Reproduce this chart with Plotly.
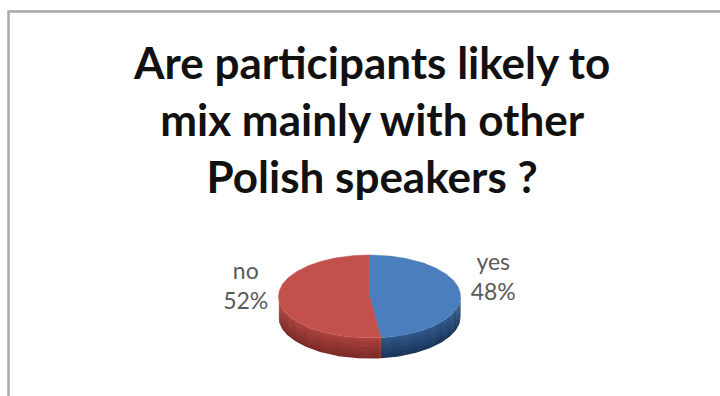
import numpy as np
import plotly.graph_objects as go

# ---- data ----
categories = ["yes", "no"]
values = [48, 52]
top_colors = ["#4A7EBD", "#C4504C"]
side_top_colors = ["#2E5688", "#A8403C"]
side_bottom_colors = ["#1A365C", "#7E2B28"]

title_text = "Are participants likely to<br>mix mainly with other<br>Polish speakers ?"

# ---- geometry (pixel-like coordinates on hidden axes) ----
W, H = 720, 396
cx, cy = 369.5, 296.5
rx, ry = 91.0, 41.5
depth = 20.0


def pt(theta_deg, dy=0.0):
    t = np.radians(theta_deg)
    return cx + rx * np.sin(t), cy - ry * np.cos(t) + dy


def mix(c1, c2, f):
    a = [int(c1[i:i + 2], 16) for i in (1, 3, 5)]
    b = [int(c2[i:i + 2], 16) for i in (1, 3, 5)]
    return "#%02x%02x%02x" % tuple(int(round(a[k] + (b[k] - a[k]) * f)) for k in range(3))


total = float(sum(values))
starts, ends = [], []
acc = 0.0
for v in values:
    starts.append(acc / total * 360.0)
    acc += v
    ends.append(acc / total * 360.0)

fig = go.Figure()

# sides (visible front half: 90..270 deg clockwise from top)
nb = 8
for i, cat in enumerate(categories):
    a0 = max(starts[i], 90.0)
    a1 = min(ends[i], 270.0)
    if a1 <= a0:
        continue
    th = np.linspace(a0, a1, 80)
    for b in range(nb):
        d0 = depth * b / nb
        d1 = depth * (b + 1) / nb + 0.6
        xs_t, ys_t = pt(th, d0)
        xs_b, ys_b = pt(th[::-1], d1)
        xs = np.concatenate([xs_t, xs_b, xs_t[:1]])
        ys = np.concatenate([ys_t, ys_b, ys_t[:1]])
        col = mix(side_top_colors[i], side_bottom_colors[i], b / (nb - 1))
        fig.add_trace(go.Scatter(x=xs, y=ys, mode="lines", fill="toself",
                                 fillcolor=col, line=dict(width=0, color=col),
                                 hoverinfo="skip", showlegend=False))

# top faces
for i, cat in enumerate(categories):
    th = np.linspace(starts[i], ends[i], 160)
    xs, ys = pt(th)
    xs = np.concatenate([[cx], xs, [cx]])
    ys = np.concatenate([[cy], ys, [cy]])
    fig.add_trace(go.Scatter(x=xs, y=ys, mode="lines", fill="toself",
                             fillcolor=top_colors[i],
                             line=dict(width=0.5, color=top_colors[i]),
                             name=cat, hoverinfo="skip", showlegend=False))

# labels
lab_x, lab_y, lab_t = [], [], []
for i, cat in enumerate(categories):
    mid = (starts[i] + ends[i]) / 2.0
    s = np.sin(np.radians(mid))
    lab_x.append(cx + (rx + 33) * s)
    lab_y.append(cy - 17 + (9 if s < 0 else 0))
    lab_t.append(f"{cat}<br>{values[i]:.0f}%")
fig.add_trace(go.Scatter(x=lab_x, y=lab_y, mode="text", text=lab_t,
                         textposition="middle center",
                         textfont=dict(family="Lato, 'Open Sans', sans-serif",
                                       size=23, color="#5A5A5A"),
                         hoverinfo="skip", showlegend=False))

fig.update_layout(
    width=W, height=H,
    margin=dict(l=0, r=0, t=0, b=0),
    paper_bgcolor="white", plot_bgcolor="white",
    xaxis=dict(range=[0, W], visible=False, fixedrange=True),
    yaxis=dict(range=[H, 0], visible=False, fixedrange=True),
    shapes=[dict(type="rect", xref="x", yref="y", x0=8.5, x1=W + 10,
                 y0=11.5, y1=H + 10, line=dict(color="#A9A9A9", width=2.5))],
    annotations=[dict(x=371, y=119, xref="x", yref="y", text=title_text,
                      showarrow=False, xanchor="center", yanchor="middle",
                      align="center",
                      font=dict(family="Lato, 'Open Sans', sans-serif",
                                size=44, color="#111111", weight="bold"))],
)

fig.write_html("out.html", config={"displayModeBar": False},
               post_script="document.body.style.margin='0px';document.body.style.overflow='hidden';")
